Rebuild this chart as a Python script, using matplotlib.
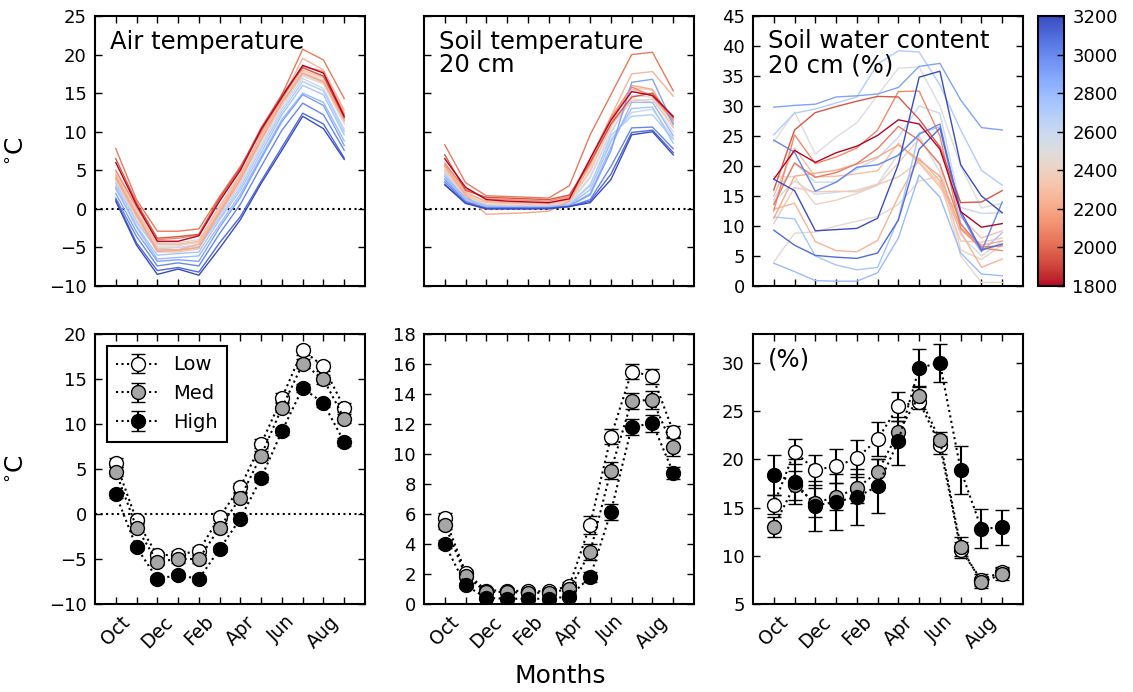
import matplotlib
matplotlib.use("Agg")
import matplotlib.pyplot as plt
import numpy as np
from matplotlib import cm, colors

plt.rcParams.update({
    "font.family": "DejaVu Sans",
    "font.size": 13,
    "axes.linewidth": 1.5,
    "xtick.direction": "in",
    "ytick.direction": "in",
    "xtick.top": True,
    "ytick.right": True,
    "xtick.major.size": 5,
    "ytick.major.size": 5,
    "xtick.major.width": 1.0,
    "ytick.major.width": 1.0,
    "xtick.major.pad": 6,
    "ytick.major.pad": 6,
    "mathtext.fontset": "dejavusans",
})

# ---------------------------------------------------------------- data
months = ["Oct", "Nov", "Dec", "Jan", "Feb", "Mar",
          "Apr", "May", "Jun", "Jul", "Aug", "Sep"]
month_pos = np.arange(1, 13)

# site elevations (m) -> line colour
elev = [1800, 1950, 2050, 2100, 2200, 2250, 2300, 2350, 2400, 2450,
        2500, 2550, 2600, 2700, 2750, 2800, 2900, 3000, 3100, 3200]

# monthly air temperature per site (deg C)
air_sites = [
    [6.0, 0.5, -4.2, -4.2, -3.5, 1.0, 5.0, 10.3, 14.5, 18.6, 17.6, 12.0],
    [6.5, 0.8, -3.8, -3.6, -3.3, 1.4, 5.3, 10.5, 14.8, 18.3, 17.2, 11.8],
    [7.8, 1.2, -2.9, -2.9, -2.6, 1.6, 5.5, 10.0, 14.8, 20.7, 19.3, 14.3],
    [5.0, 0.2, -4.0, -3.8, -3.4, 1.3, 5.2, 10.2, 14.3, 18.5, 17.8, 12.3],
    [4.0, -0.8, -5.5, -5.4, -5.0, -0.5, 3.8, 9.0, 13.8, 17.6, 16.5, 11.5],
    [4.3, -0.6, -5.2, -5.3, -4.6, -0.3, 4.2, 9.5, 14.2, 19.5, 18.0, 12.8],
    [4.5, -0.5, -4.5, -4.6, -4.2, 0.2, 4.4, 9.6, 14.3, 18.0, 17.0, 11.8],
    [3.8, -1.0, -5.6, -5.6, -5.2, -0.6, 3.6, 8.8, 13.5, 17.5, 16.3, 11.3],
    [4.8, -0.2, -4.4, -4.4, -4.0, 0.4, 4.6, 9.8, 14.5, 18.3, 17.2, 12.0],
    [4.2, -0.8, -4.8, -4.8, -4.3, 0.0, 4.0, 9.2, 13.9, 17.8, 16.7, 11.6],
    [3.5, -1.2, -5.0, -5.0, -4.6, -0.4, 3.6, 8.6, 13.4, 17.2, 16.2, 11.0],
    [4.0, -0.5, -4.6, -4.6, -4.4, -0.2, 3.8, 9.0, 13.6, 17.4, 16.4, 11.4],
    [3.0, -1.8, -5.2, -5.0, -4.9, -0.8, 3.2, 8.2, 13.0, 16.9, 15.6, 10.3],
    [3.3, -1.6, -5.4, -5.3, -5.0, -1.1, 2.8, 7.8, 12.6, 16.5, 15.3, 10.0],
    [2.6, -2.2, -6.0, -5.8, -5.6, -1.4, 2.4, 7.3, 12.2, 16.0, 14.8, 9.6],
    [2.8, -2.4, -6.5, -6.3, -6.1, -2.0, 1.9, 6.8, 11.6, 15.0, 13.8, 8.8],
    [2.0, -3.0, -6.8, -6.6, -6.8, -2.4, 1.5, 6.5, 11.3, 14.8, 13.4, 8.2],
    [1.4, -3.6, -7.4, -7.0, -7.4, -3.2, 0.6, 5.5, 10.2, 13.7, 12.2, 7.6],
    [1.2, -4.4, -8.0, -7.6, -8.2, -4.4, -1.0, 3.6, 8.0, 12.4, 11.0, 6.6],
    [1.0, -4.7, -8.5, -7.8, -8.6, -5.1, -1.4, 3.3, 7.6, 12.0, 10.4, 6.4],
]

# monthly soil temperature at 20 cm per site (deg C)
soil_sites = [
    [6.5, 2.8, 1.2, 1.0, 0.9, 0.8, 1.3, 6.5, 11.5, 15.2, 14.7, 12.0],
    [7.0, 2.4, 1.5, 1.4, 1.3, 1.2, 1.8, 6.0, 11.0, 14.5, 15.0, 11.8],
    [8.3, 3.4, 1.7, 1.6, 1.5, 1.4, 3.0, 9.6, 14.8, 20.0, 20.3, 15.3],
    [5.8, 2.6, 1.3, 1.2, 1.1, 1.0, 1.6, 6.5, 11.8, 15.8, 14.6, 11.5],
    [5.5, 1.8, -0.7, -0.6, -0.5, -0.3, 1.0, 5.8, 11.0, 16.0, 15.5, 11.0],
    [6.0, 2.2, 0.9, 0.8, 0.8, 0.7, 1.5, 6.2, 12.0, 17.5, 17.8, 14.6],
    [5.7, 2.0, 1.0, 0.9, 0.8, 0.7, 1.2, 5.5, 11.5, 15.5, 14.8, 11.8],
    [5.0, 1.7, 0.8, 0.7, 0.6, 0.6, 1.0, 5.0, 10.8, 14.0, 14.2, 10.6],
    [5.3, 1.9, 0.6, 0.5, 0.5, 0.5, 1.2, 5.8, 11.4, 15.7, 15.4, 11.2],
    [5.0, 1.7, 0.5, 0.4, 0.4, 0.4, 0.9, 4.8, 10.5, 15.2, 14.8, 10.8],
    [4.7, 1.5, 0.5, 0.4, 0.4, 0.3, 0.8, 4.2, 10.0, 14.3, 13.8, 10.0],
    [4.8, 1.5, 0.4, 0.3, 0.3, 0.3, 0.7, 4.0, 9.8, 14.7, 14.5, 10.5],
    [4.3, 1.3, 0.4, 0.3, 0.3, 0.3, 0.6, 3.2, 9.0, 12.5, 12.9, 9.2],
    [4.5, 1.2, 0.3, 0.2, 0.2, 0.3, 0.6, 3.0, 9.5, 12.0, 12.2, 9.0],
    [4.0, 1.2, 0.4, 0.3, 0.3, 0.3, 0.5, 2.5, 8.7, 13.0, 13.2, 8.5],
    [4.2, 1.4, 0.3, 0.2, 0.2, 0.2, 0.4, 2.0, 8.0, 13.8, 13.8, 9.5],
    [3.8, 1.0, 0.1, 0.1, 0.1, 0.1, 0.4, 1.8, 7.5, 16.4, 16.8, 11.0],
    [3.5, 0.9, 0.0, 0.0, 0.0, 0.1, 0.3, 1.2, 5.5, 10.5, 10.6, 7.8],
    [3.2, 0.8, 0.1, 0.1, 0.1, 0.1, 0.3, 1.0, 4.5, 9.9, 10.2, 7.3],
    [3.1, 0.7, 0.0, 0.0, 0.0, 0.0, 0.3, 0.8, 3.8, 9.6, 10.0, 7.0],
]

# monthly soil water content at 20 cm per site (%)
swc_sites = [
    [17.8, 22.6, 20.6, 22.2, 23.3, 25.1, 27.7, 27.0, 22.8, 12.4, 9.8, 10.4],
    [16.0, 26.0, 28.9, 29.9, 30.8, 31.6, 31.5, 27.8, 23.2, 13.9, 14.0, 15.9],
    [13.6, 20.5, 18.1, 18.9, 20.4, 22.9, 26.6, 24.3, 20.3, 10.3, 6.5, 6.7],
    [12.5, 25.2, 20.4, 21.5, 23.0, 26.0, 32.4, 32.5, 25.0, 9.5, 6.3, 5.9],
    [11.3, 18.3, 18.8, 19.3, 20.3, 21.5, 23.5, 21.0, 18.3, 9.7, 6.8, 7.5],
    [12.8, 13.8, 7.4, 5.9, 5.7, 7.6, 14.9, 21.3, 17.5, 9.0, 3.1, 4.5],
    [15.0, 23.0, 18.2, 18.3, 18.7, 19.2, 23.8, 20.5, 16.5, 11.5, 8.0, 9.2],
    [10.4, 16.4, 15.7, 15.8, 15.7, 16.9, 18.2, 20.7, 17.0, 7.5, 7.3, 8.0],
    [18.2, 18.2, 13.6, 14.3, 15.4, 16.8, 20.5, 24.5, 20.2, 6.0, 4.4, 6.9],
    [4.0, 8.8, 9.0, 10.0, 10.8, 11.6, 13.6, 17.5, 18.3, 5.0, 0.6, 0.6],
    [24.0, 29.0, 22.0, 24.8, 27.2, 31.8, 36.3, 36.5, 30.0, 20.0, 13.0, 13.8],
    [14.0, 17.5, 15.3, 15.6, 16.0, 17.0, 22.0, 25.0, 19.0, 8.5, 5.0, 7.5],
    [14.4, 20.5, 17.3, 17.3, 19.5, 21.3, 24.8, 30.0, 28.8, 13.1, 12.1, 12.2],
    [25.2, 28.8, 29.5, 30.5, 31.5, 37.0, 39.2, 39.0, 33.5, 26.0, 19.3, 16.8],
    [11.5, 11.2, 5.0, 3.5, 2.7, 3.1, 11.2, 25.5, 26.5, 10.5, 5.7, 8.9],
    [3.8, 2.4, 0.9, 0.8, 0.8, 2.2, 8.0, 18.5, 14.8, 5.5, 2.0, 1.7],
    [29.8, 30.1, 30.3, 31.5, 31.7, 32.0, 33.1, 36.6, 37.1, 31.0, 26.4, 26.0],
    [24.3, 22.3, 15.8, 17.3, 19.8, 20.2, 21.8, 25.3, 27.0, 12.0, 5.8, 14.0],
    [9.3, 6.8, 5.1, 4.8, 4.6, 5.5, 11.0, 22.8, 26.3, 12.5, 6.0, 7.0],
    [17.8, 15.9, 9.2, 9.4, 9.6, 11.3, 20.3, 34.8, 35.8, 20.2, 15.0, 12.2],
]

# elevation-class means and standard errors
groups = ["Low", "Med", "High"]
air_mean = {
    "Low":  [5.7, -0.7, -4.6, -4.5, -4.1, -0.3, 3.0, 7.8, 12.9, 18.2, 16.4, 11.8],
    "Med":  [4.7, -1.5, -5.3, -5.0, -5.0, -1.5, 1.8, 6.5, 11.8, 16.7, 15.0, 10.6],
    "High": [2.2, -3.7, -7.2, -6.8, -7.2, -3.9, -0.5, 4.0, 9.2, 14.0, 12.3, 8.0],
}
air_err = {
    "Low":  [0.5, 0.4, 0.4, 0.4, 0.4, 0.4, 0.5, 0.5, 0.5, 0.5, 0.5, 0.5],
    "Med":  [0.5, 0.5, 0.4, 0.4, 0.4, 0.5, 0.5, 0.5, 0.5, 0.5, 0.5, 0.5],
    "High": [0.4, 0.3, 0.3, 0.3, 0.3, 0.3, 0.4, 0.4, 0.4, 0.4, 0.4, 0.4],
}
soil_mean = {
    "Low":  [5.75, 2.1, 0.9, 0.9, 0.85, 0.85, 1.2, 5.3, 11.15, 15.5, 15.2, 11.5],
    "Med":  [5.3, 1.9, 0.8, 0.8, 0.75, 0.75, 1.0, 3.45, 8.9, 13.55, 13.6, 10.45],
    "High": [4.0, 1.25, 0.4, 0.35, 0.35, 0.35, 0.5, 1.8, 6.15, 11.8, 12.05, 8.75],
}
soil_err = {
    "Low":  [0.32, 0.2, 0.15, 0.15, 0.15, 0.15, 0.3, 0.6, 0.5, 0.5, 0.5, 0.35],
    "Med":  [0.3, 0.2, 0.15, 0.15, 0.15, 0.15, 0.25, 0.53, 0.55, 0.55, 0.58, 0.6],
    "High": [0.25, 0.15, 0.1, 0.1, 0.1, 0.1, 0.15, 0.35, 0.55, 0.53, 0.58, 0.4],
}
swc_mean = {
    "Low":  [15.3, 20.8, 18.9, 19.3, 20.1, 22.1, 25.5, 26.0, 21.5, 10.6, 7.5, 8.35],
    "Med":  [13.0, 17.3, 15.5, 16.1, 17.0, 18.7, 22.8, 26.6, 22.0, 10.95, 7.25, 8.1],
    "High": [18.4, 17.7, 15.2, 15.6, 16.1, 17.2, 21.9, 29.5, 30.0, 18.9, 12.8, 12.95],
}
swc_err = {
    "Low":  [1.0, 1.3, 1.6, 1.8, 1.9, 1.8, 1.5, 0.8, 0.9, 0.8, 0.6, 0.5],
    "Med":  [1.0, 1.5, 1.5, 1.4, 1.5, 1.3, 1.2, 0.9, 0.8, 1.0, 0.6, 0.6],
    "High": [2.1, 2.3, 2.6, 2.9, 2.9, 2.8, 2.5, 1.9, 2.0, 2.5, 2.0, 1.8],
}
face = {"Low": "white", "Med": "0.65", "High": "black"}

# ---------------------------------------------------------------- figure
W, H = 1133, 692
fig = plt.figure(figsize=(W / 100, H / 100), dpi=100)


def px_axes(x0, y0, x1, y1):
    return fig.add_axes([x0 / W, 1 - y1 / H, (x1 - x0) / W, (y1 - y0) / H])


cols = [(95, 365), (424, 694), (753, 1023)]
top = [px_axes(c[0], 16, c[1], 286) for c in cols]
bot = [px_axes(c[0], 334, c[1], 604) for c in cols]
cax = px_axes(1038, 16, 1064, 286)

cmap = plt.get_cmap("coolwarm_r")
norm = colors.Normalize(vmin=1800, vmax=3200)

tick_labels = [m if i % 2 == 0 else "" for i, m in enumerate(months)]

for ax in top + bot:
    ax.set_xlim(0, 13)
    ax.set_xticks(month_pos)

# ----- top row: one line per site, coloured by elevation
for ax, series in zip(top, [air_sites, soil_sites, swc_sites]):
    for z, vals in sorted(zip(elev, series), key=lambda t: abs(t[0] - 2500)):
        ax.plot(month_pos, vals, color=cmap(norm(z)), lw=1.0)
    ax.set_xticklabels([])

for ax in top[:2]:
    ax.axhline(0, color="k", ls=":", lw=1.5, zorder=0)
    ax.set_ylim(-10, 25)
    ax.set_yticks(np.arange(-10, 26, 5))
top[1].set_yticklabels([])
top[2].set_ylim(0, 45)
top[2].set_yticks(np.arange(0, 46, 5))

txt_kw = dict(fontsize=17.5, va="top", linespacing=1.0)
top[0].text(0.055, 0.95, "Air temperature", transform=top[0].transAxes, **txt_kw)
top[1].text(0.055, 0.95, "Soil temperature\n20 cm",
            transform=top[1].transAxes, **txt_kw)
top[2].text(0.055, 0.95, "Soil water content\n20 cm (%)",
            transform=top[2].transAxes, **txt_kw)

sm = cm.ScalarMappable(norm=norm, cmap=cmap)
cb = fig.colorbar(sm, cax=cax, ticks=np.arange(1800, 3201, 200))
cb.outline.set_linewidth(1.5)
cax.tick_params(direction="in", length=5, right=True, left=False)

# ----- bottom row: elevation-class means with error bars
for ax, mean, err in zip(bot, [air_mean, soil_mean, swc_mean],
                         [air_err, soil_err, swc_err]):
    for g in groups:
        ax.errorbar(month_pos, mean[g], yerr=err[g], fmt="o", ls=":",
                    color="k", lw=1.5, mfc=face[g], mec="k", ms=10,
                    mew=1.0, ecolor="k", elinewidth=1.5, capsize=5,
                    capthick=1.5, label=g)
    ax.set_xticklabels(tick_labels, rotation=45, ha="center", fontsize=13.5)

bot[0].axhline(0, color="k", ls=":", lw=1.5, zorder=0)
bot[0].set_ylim(-10, 20)
bot[0].set_yticks(np.arange(-10, 21, 5))
bot[1].set_ylim(0, 18)
bot[1].set_yticks(np.arange(0, 19, 2))
bot[2].set_ylim(5, 33)
bot[2].set_yticks(np.arange(5, 31, 5))
bot[2].text(0.055, 0.95, "(%)", transform=bot[2].transAxes, **txt_kw)

leg = bot[0].legend(loc="upper left", numpoints=1, fontsize=14,
                    fancybox=False, framealpha=1, edgecolor="k",
                    handlelength=2.2, handletextpad=0.7, labelspacing=0.5,
                    borderpad=0.5, borderaxespad=0.6)
leg.get_frame().set_linewidth(1.5)

for ax in (top[0], bot[0]):
    ax.set_ylabel(r"$^{\circ}$C", fontsize=18)
    ax.yaxis.set_label_coords(-0.245, 0.5)
fig.text(560 / W, 1 - 676 / H, "Months", fontsize=18, ha="center", va="center")

fig.savefig("out.png", dpi=100)
